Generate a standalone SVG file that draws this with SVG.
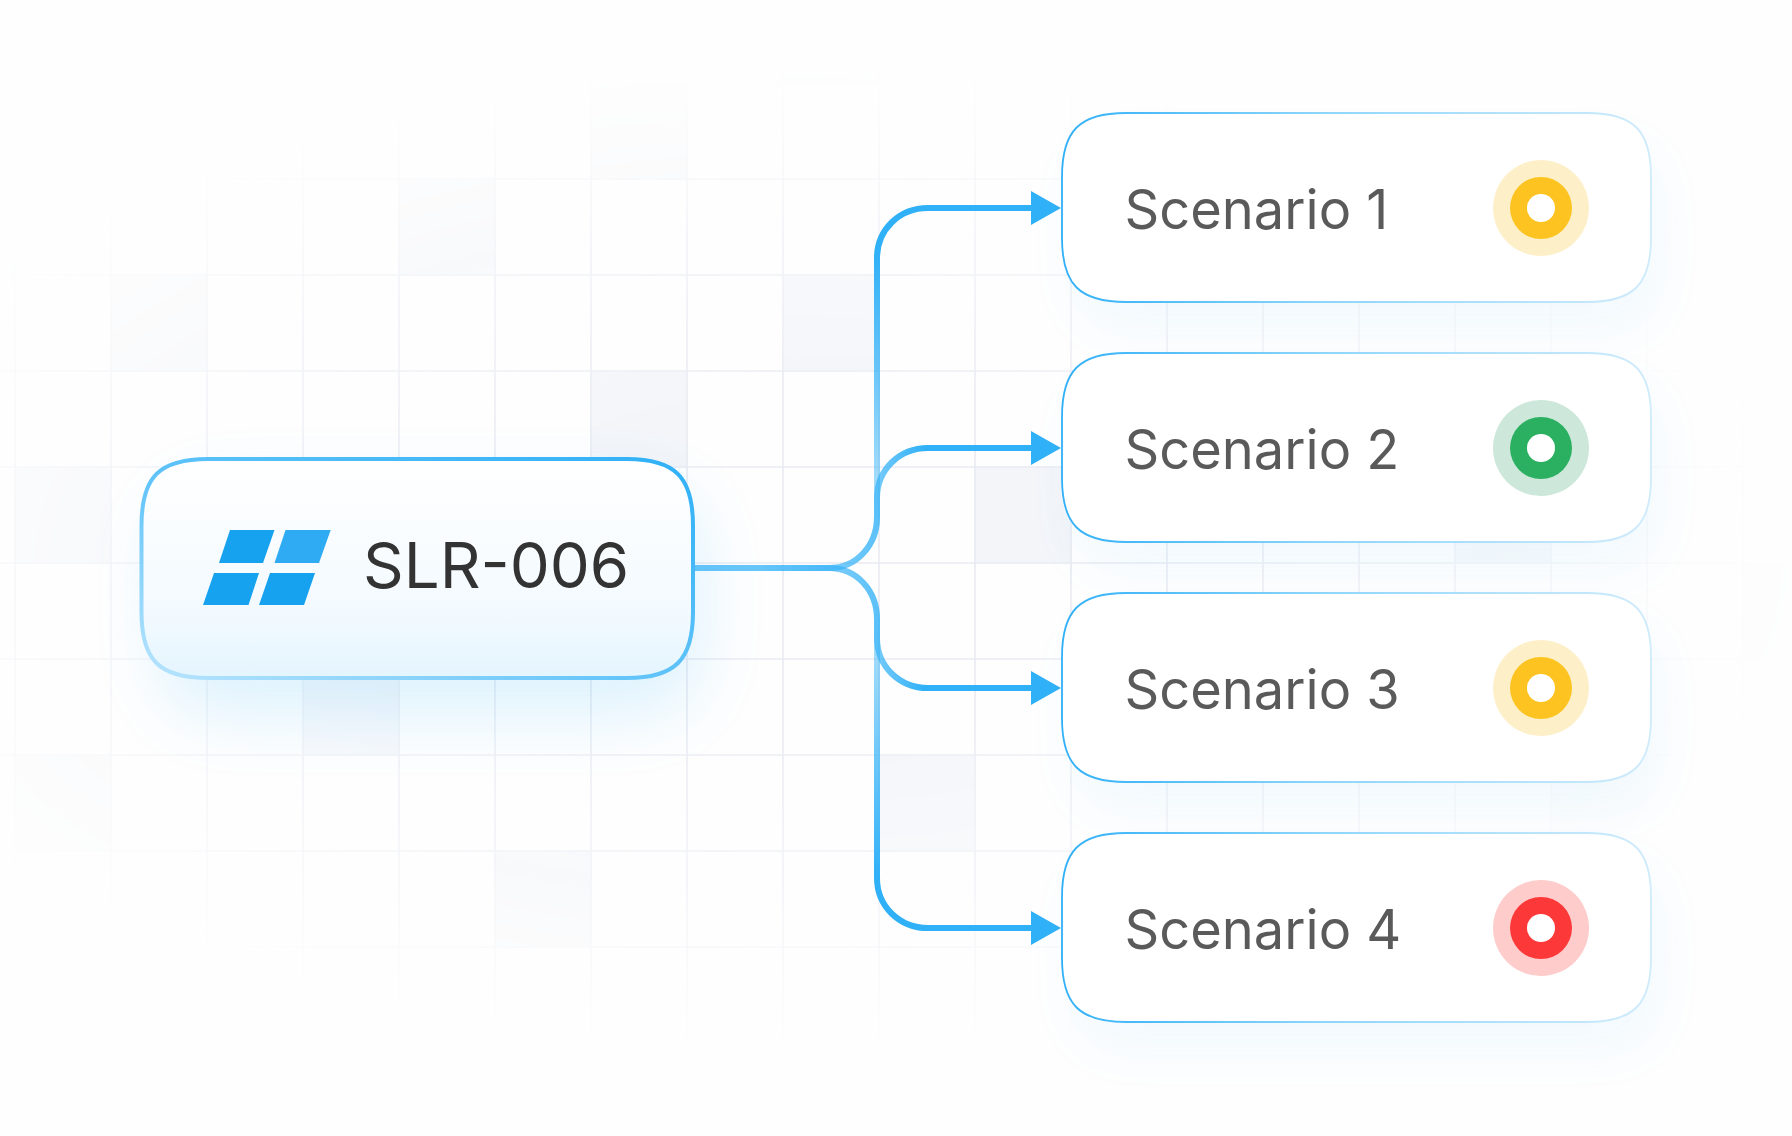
<svg xmlns="http://www.w3.org/2000/svg" xmlns:xlink="http://www.w3.org/1999/xlink" width="1792" height="1136" viewBox="0 0 1792 1136">
<style>
.grid line{stroke:#e9ebf2;stroke-width:1.7}
.cell{fill:#f3f5f9}
.cn{fill:none;stroke-width:6}
.lbl{font-family:Inter,"Liberation Sans",sans-serif;font-size:54.2px;fill:#5a5a5a;font-weight:400}
.sq{fill:#fff;stroke:url(#sb);stroke-width:1.8}
.sh{fill:#3ab2f5;opacity:.06;filter:url(#b1)}
</style>
<defs>
<radialGradient id="fade" gradientUnits="userSpaceOnUse" cx="0" cy="0" r="1" gradientTransform="translate(800 560) scale(1020 500)">
<stop offset="0" stop-color="#fff"/><stop offset=".3" stop-color="#fff"/><stop offset=".6" stop-color="#999"/><stop offset=".8" stop-color="#444"/><stop offset="1" stop-color="#000"/>
</radialGradient>
<mask id="m" maskUnits="userSpaceOnUse" x="0" y="0" width="1792" height="1136"><rect width="1792" height="1136" fill="url(#fade)"/></mask>
<linearGradient id="sb" x1="0" y1="0" x2="1" y2="0"><stop offset="0" stop-color="#2fb0f7"/><stop offset=".45" stop-color="#8fd6fb"/><stop offset="1" stop-color="#cfebfc"/></linearGradient>
<linearGradient id="mb" x1="1" y1="0" x2="0" y2="1"><stop offset="0" stop-color="#2fb0f7"/><stop offset=".55" stop-color="#62c4f9"/><stop offset="1" stop-color="#b8e4fd"/></linearGradient>
<linearGradient id="mf" x1="0" y1="0" x2="0" y2="1"><stop offset="0" stop-color="#fff"/><stop offset=".7" stop-color="#f3faff"/><stop offset="1" stop-color="#e4f5fe"/></linearGradient>
<linearGradient id="cv" gradientUnits="userSpaceOnUse" x1="0" y1="568" x2="0" y2="250"><stop offset="0" stop-color="#2fb0f7" stop-opacity=".28"/><stop offset=".35" stop-color="#2fb0f7" stop-opacity=".5"/><stop offset="1" stop-color="#2fb0f7"/></linearGradient>
<linearGradient id="cv4" gradientUnits="userSpaceOnUse" x1="0" y1="568" x2="0" y2="880"><stop offset="0" stop-color="#2fb0f7" stop-opacity=".28"/><stop offset=".35" stop-color="#2fb0f7" stop-opacity=".5"/><stop offset="1" stop-color="#2fb0f7"/></linearGradient>
<linearGradient id="ch" gradientUnits="userSpaceOnUse" x1="760" y1="0" x2="925" y2="0"><stop offset="0" stop-color="#2fb0f7" stop-opacity=".28"/><stop offset=".7" stop-color="#2fb0f7" stop-opacity=".65"/><stop offset="1" stop-color="#2fb0f7"/></linearGradient>
<filter id="b1" x="-30%" y="-60%" width="160%" height="220%"><feGaussianBlur stdDeviation="24"/></filter>
<filter id="b2" x="-30%" y="-60%" width="160%" height="220%"><feGaussianBlur stdDeviation="34"/></filter>
<marker id="ah" markerUnits="userSpaceOnUse" viewBox="0 0 30 34" refX="0" refY="17" markerWidth="30" markerHeight="34" orient="auto"><path d="M0 0L30 17L0 34Z" fill="#2fb0f7"/></marker>
<path id="sp" d="M64 0H525C572 0 589 18 589 64V125C589 171 572 189 525 189H64C17 189 0 171 0 125V64C0 18 17 0 64 0Z"/>
</defs>
<rect width="1792" height="1136" fill="#fefefe"/>
<g id="background" mask="url(#m)">
<g>
<rect class="cell" x="783" y="275" width="96" height="96"/>
<rect class="cell" x="591" y="371" width="96" height="96"/>
<rect class="cell" x="975" y="467" width="96" height="96"/>
<rect class="cell" x="303" y="659" width="96" height="96"/>
<rect class="cell" x="399" y="179" width="96" height="96"/>
<rect class="cell" x="111" y="275" width="96" height="96"/>
<rect class="cell" x="591" y="83" width="96" height="96"/>
<rect class="cell" x="15" y="755" width="96" height="96"/>
<rect class="cell" x="879" y="755" width="96" height="96"/>
<rect class="cell" x="495" y="851" width="96" height="96"/>
<rect class="cell" x="15" y="467" width="96" height="96"/>
<rect class="cell" x="0" y="179" width="15" height="96"/>
<rect class="cell" x="783" y="0" width="96" height="83"/>
<rect class="cell" x="1167" y="83" width="96" height="96"/>
<rect class="cell" x="1455" y="467" width="96" height="96"/>
<rect class="cell" x="1551" y="755" width="96" height="96"/>
<rect class="cell" x="1743" y="563" width="49" height="96"/>
</g>
<g class="grid">
<line x1="15" y1="0" x2="15" y2="1136"/><line x1="111" y1="0" x2="111" y2="1136"/><line x1="207" y1="0" x2="207" y2="1136"/><line x1="303" y1="0" x2="303" y2="1136"/><line x1="399" y1="0" x2="399" y2="1136"/><line x1="495" y1="0" x2="495" y2="1136"/><line x1="591" y1="0" x2="591" y2="1136"/><line x1="687" y1="0" x2="687" y2="1136"/><line x1="783" y1="0" x2="783" y2="1136"/><line x1="879" y1="0" x2="879" y2="1136"/><line x1="975" y1="0" x2="975" y2="1136"/><line x1="1071" y1="0" x2="1071" y2="1136"/><line x1="1167" y1="0" x2="1167" y2="1136"/><line x1="1263" y1="0" x2="1263" y2="1136"/><line x1="1359" y1="0" x2="1359" y2="1136"/><line x1="1455" y1="0" x2="1455" y2="1136"/><line x1="1551" y1="0" x2="1551" y2="1136"/><line x1="1647" y1="0" x2="1647" y2="1136"/><line x1="1743" y1="0" x2="1743" y2="1136"/>
<line x1="0" y1="83" x2="1792" y2="83"/><line x1="0" y1="179" x2="1792" y2="179"/><line x1="0" y1="275" x2="1792" y2="275"/><line x1="0" y1="371" x2="1792" y2="371"/><line x1="0" y1="467" x2="1792" y2="467"/><line x1="0" y1="563" x2="1792" y2="563"/><line x1="0" y1="659" x2="1792" y2="659"/><line x1="0" y1="755" x2="1792" y2="755"/><line x1="0" y1="851" x2="1792" y2="851"/><line x1="0" y1="947" x2="1792" y2="947"/>
</g>
</g>
<g id="shadows">
<use href="#sp" class="sh" transform="translate(1072 143)"/>
<use href="#sp" class="sh" transform="translate(1072 383)"/>
<use href="#sp" class="sh" transform="translate(1072 623)"/>
<use href="#sp" class="sh" transform="translate(1072 863)"/>
<rect x="160" y="490" width="540" height="225" rx="60" fill="#35b4fa" opacity=".16" filter="url(#b2)"/>
</g>
<g id="connectors">
<path class="cn" stroke="url(#cv)" marker-end="url(#ah)" d="M693 568H829C857 568 877 545 877 517V258C877 230 899 208 928 208H1031"/>
<path class="cn" stroke="url(#ch)" marker-end="url(#ah)" d="M693 568H829C857 568 877 545 877 517V498C877 470 899 448 928 448H1031"/>
<path class="cn" stroke="url(#ch)" marker-end="url(#ah)" d="M693 568H829C857 568 877 591 877 619V638C877 666 899 688 928 688H1031"/>
<path class="cn" stroke="url(#cv4)" marker-end="url(#ah)" d="M693 568H829C857 568 877 591 877 619V878C877 906 899 928 928 928H1031"/>
</g>
<g id="source-node">
<path d="M208 459H627C675 459 693 477 693 526V612C693 660 675 678 627 678H208C159 678 141.500 660 141.500 612V526C141.500 477 159 459 208 459Z" fill="url(#mf)" stroke="url(#mb)" stroke-width="4"/>
<g fill="#17a2f0">
<path d="M230 530H274.500L263 563H219Z"/>
<path d="M285.500 530H330.700L319 563H274.500Z" fill="#2eabf3"/>
<path d="M214 573H259L248.500 605H203Z"/>
<path d="M270 573H315L304 605H259Z"/>
</g>
<text x="363" y="588" font-family="Inter,'Liberation Sans',sans-serif" font-size="63.500" fill="#333">SLR-006</text>
</g>
<g id="scenario-1" transform="translate(1062 113)">
<use href="#sp" class="sq"/>
<text class="lbl" x="62.500" y="115.500">Scenario 1</text>
<circle cx="479" cy="95" r="48" fill="#fdefc8"/><circle cx="479" cy="95" r="31" fill="#fcc321"/><circle cx="479" cy="95" r="14" fill="#fff"/>
</g>
<g id="scenario-2" transform="translate(1062 353)">
<use href="#sp" class="sq"/>
<text class="lbl" x="62.500" y="115.500">Scenario 2</text>
<circle cx="479" cy="95" r="48" fill="#cde8da"/><circle cx="479" cy="95" r="31" fill="#2bb061"/><circle cx="479" cy="95" r="14" fill="#fff"/>
</g>
<g id="scenario-3" transform="translate(1062 593)">
<use href="#sp" class="sq"/>
<text class="lbl" x="62.500" y="115.500">Scenario 3</text>
<circle cx="479" cy="95" r="48" fill="#fdefc8"/><circle cx="479" cy="95" r="31" fill="#fcc321"/><circle cx="479" cy="95" r="14" fill="#fff"/>
</g>
<g id="scenario-4" transform="translate(1062 833)">
<use href="#sp" class="sq"/>
<text class="lbl" x="62.500" y="115.500">Scenario 4</text>
<circle cx="479" cy="95" r="48" fill="#fdcccb"/><circle cx="479" cy="95" r="31" fill="#fd3839"/><circle cx="479" cy="95" r="14" fill="#fff"/>
</g>
</svg>
